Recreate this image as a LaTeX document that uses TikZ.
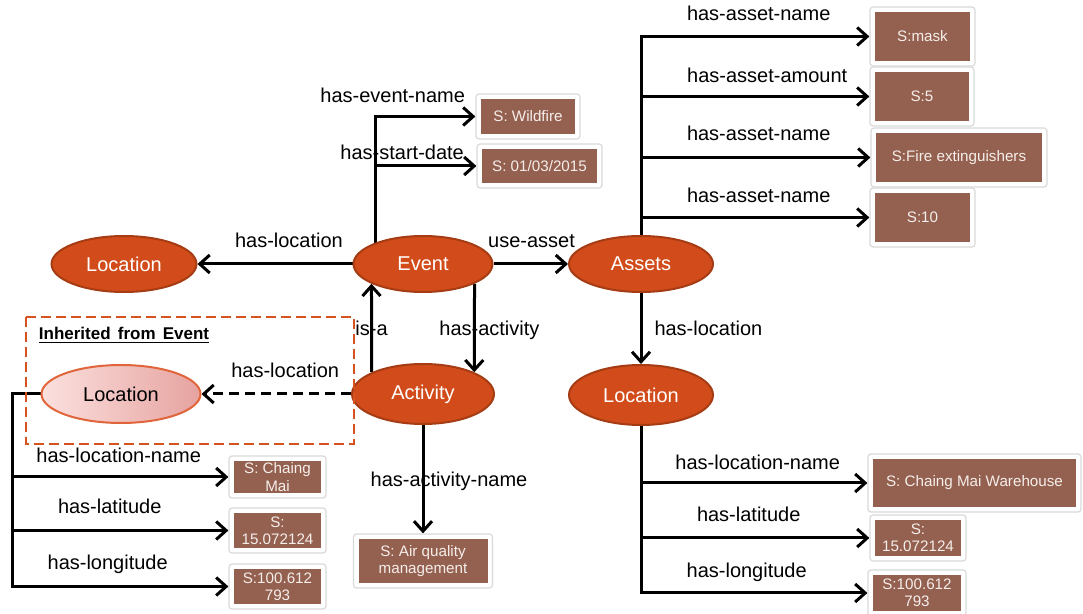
\documentclass[tikz,border=0pt]{standalone}
\usepackage{fontspec}
\setmainfont{Liberation Sans}
\usetikzlibrary{shapes.geometric,arrows.meta,backgrounds,positioning}

\definecolor{clsfill}{HTML}{D24B1A}
\definecolor{clsline}{HTML}{A53C14}
\definecolor{valbrown}{HTML}{946050}
\definecolor{valtext}{HTML}{F5EEEA}
\definecolor{framegray}{HTML}{D9D9D9}
\definecolor{frameorange}{HTML}{D6521E}
\definecolor{inhleft}{HTML}{FBE0DE}
\definecolor{inhright}{HTML}{E6A3A0}
\definecolor{inhline}{HTML}{E0653A}

\tikzset{
  cls/.style={ellipse, draw=clsline, fill=clsfill, line width=1pt, text=white,
    font=\fontsize{10}{12}\selectfont, inner sep=0pt},
  valbox/.style={draw=framegray, line width=0.6pt, fill=white, rounded corners=1.5pt,
    inner sep=0pt, align=center, text=valtext, font=\fontsize{7.6}{8.7}\selectfont,
    path picture={\fill[valbrown, sharp corners]
      ([shift={(2.5pt,2.5pt)}]path picture bounding box.south west) rectangle
      ([shift={(-2.5pt,-2.5pt)}]path picture bounding box.north east);}},
  lbl/.style={font=\fontsize{10}{12}\selectfont, inner sep=0pt, text depth=0pt},
  link/.style={line width=1.5pt, -{Straight Barb[length=5pt,width=9pt]}},
  inhframe/.style={draw=frameorange, line width=1.4pt, dash pattern=on 5pt off 2.5pt}
}

\begin{document}
\begin{tikzpicture}[x=0.5pt, y=-0.5pt]
\useasboundingbox (0,0) rectangle (1083,614);

% classes
\node[cls, minimum width=72.5pt, minimum height=28pt] (locL) at (124,264) {Location};
\node[cls, minimum width=69.5pt, minimum height=28pt] (ev) at (423,264) {Event};
\node[cls, minimum width=72pt, minimum height=28pt] (as) at (641,264) {Assets};
\node[cls, minimum width=71pt, minimum height=30pt] (act) at (423,394) {Activity};
\node[cls, minimum width=72pt, minimum height=30pt] (locR) at (641,395) {Location};
\node[cls, draw=inhline, left color=inhleft, right color=inhright, text=black,
  minimum width=79.5pt, minimum height=29pt] (locI) at (121,394) {Location};

% inherited part
\draw[inhframe] (26,317) rectangle (354,444);
\node[inner sep=0pt, font=\bfseries\fontsize{8.5}{10}\selectfont] (inh) at (124,335)
  {\underline{Inherited\hspace{0.42em}from\hspace{0.42em}Event}};

% values
\node[valbox, minimum width=52pt, minimum height=22.5pt] (wild) at (528,116.5) {S: Wildfire};
\node[valbox, minimum width=62.5pt, minimum height=22pt] (sdate) at (539.5,166) {S: 01/03/2015};
\node[valbox, minimum width=52.5pt, minimum height=29.5pt] (mask) at (922.5,36.5) {S:mask};
\node[valbox, minimum width=52pt, minimum height=29.5pt] (five) at (922,96.5) {S:5};
\node[valbox, minimum width=88pt, minimum height=29.5pt] (fire) at (959,157.5) {S:Fire extinguishers};
\node[valbox, minimum width=52.5pt, minimum height=29.5pt] (ten) at (922.5,217.5) {S:10};
\node[valbox, minimum width=106.5pt, minimum height=29pt] (whouse) at (974.5,483) {S: Chaing Mai Warehouse};
\node[valbox, minimum width=48pt, minimum height=23pt] (rlat) at (918,538) {S:\\15.072124};
\node[valbox, minimum width=49pt, minimum height=23pt] (rlon) at (917,593) {S:100.612\\793};
\node[valbox, minimum width=69.5pt, minimum height=27pt] (aq) at (423,561) {S: Air quality\\management};
\node[valbox, minimum width=48.5pt, minimum height=21pt] (lname) at (277.5,477) {S: Chaing\\Mai};
\node[valbox, minimum width=48.5pt, minimum height=22.5pt] (llat) at (277.5,530.5) {S:\\15.072124};
\node[valbox, minimum width=48.5pt, minimum height=22.5pt] (llon) at (277.5,586.5) {S:100.612\\793};

\coordinate (lbus) at (12,0);

\begin{scope}[on background layer]
\draw[link] (ev) -- node[lbl, pos=.41, above=7.35pt] {has-location} (locL);
\draw[link] (ev) -- node[lbl, pos=.51, above=7.35pt] {use-asset} (as);
\draw[link] (act.157) -- node[lbl] {is-a} (ev.201);
\draw[link] (ev.-21) -- node[lbl, xshift=7.5pt] {has-activity} (act.23);
\draw[link] (as) -- node[lbl, right=6pt] {has-location} (locR);
\draw[link] (act) -- node[lbl, xshift=13pt] {has-activity-name} (aq);
\draw[link, dash pattern=on 5pt off 3pt] (act) -- node[lbl, pos=.44, above=7.35pt] {has-location} (locI);

\draw[link] (ev.156) |- node[lbl, pos=.5, above=6.1pt, xshift=8.75pt] {has-event-name} (wild);
\draw[link] (ev.156) |- node[lbl, pos=.5, above=2.35pt, xshift=13.5pt] {has-start-date} (sdate);

\draw[link] (as.north) |- node[lbl, pos=.75, above=7.1pt, xshift=1.75pt] {has-asset-name} (mask);
\draw[link] (as.north) |- node[lbl, pos=.75, above=6.1pt, xshift=6pt] {has-asset-amount} (five);
\draw[link] (as.north) |- node[lbl, pos=.75, above=7.6pt, xshift=1.5pt] {has-asset-name} (fire);
\draw[link] (as.north) |- node[lbl, pos=.75, above=6.6pt, xshift=1.75pt] {has-asset-name} (ten);

\draw[link] (locR.south) |- node[lbl, pos=.75, above=5.85pt, xshift=1.75pt] {has-location-name} (whouse);
\draw[link] (locR.south) |- node[lbl, pos=.75, above=7.35pt, xshift=-3.25pt] {has-latitude} (rlat);
\draw[link] (locR.south) |- node[lbl, pos=.75, above=6.85pt, xshift=-3.75pt] {has-longitude} (rlon);

\draw[link] (locI.west) -- (locI.west -| lbus) |- node[lbl, pos=.75, above=6.35pt, xshift=-.75pt] {has-location-name} (lname);
\draw[link] (locI.west) -- (locI.west -| lbus) |- node[lbl, pos=.75, above=7.6pt, xshift=-5.25pt] {has-latitude} (llat);
\draw[link] (locI.west) -- (locI.west -| lbus) |- node[lbl, pos=.75, above=7.6pt, xshift=-6.25pt] {has-longitude} (llon);
\end{scope}
\end{tikzpicture}
\end{document}
